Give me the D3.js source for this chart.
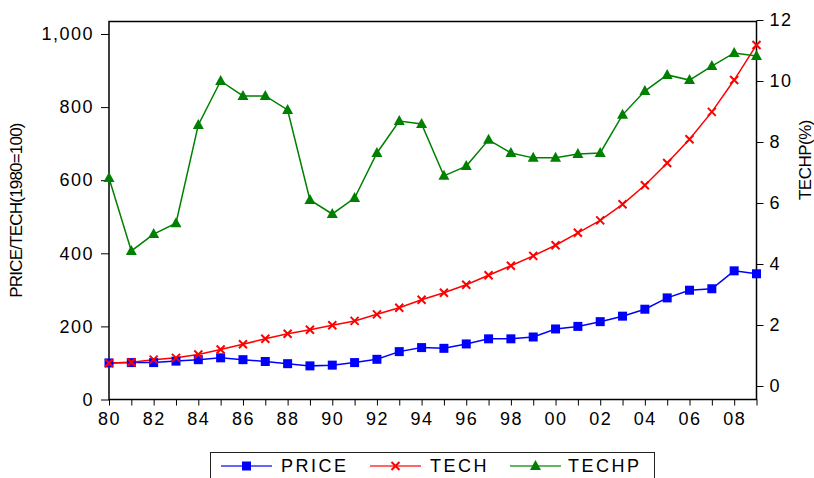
<!DOCTYPE html>
<html>
<head>
<meta charset="utf-8">
<script src="https://cdn.jsdelivr.net/npm/d3@7/dist/d3.min.js"></script>
<style>
  html, body { margin: 0; padding: 0; background: #fff; }
  svg { display: block; }
  text { font-family: "Liberation Sans", Arial, sans-serif; fill: #000; }
</style>
</head>
<body>
<svg id="chart" width="814" height="478"></svg>
<script>
const years = d3.range(1980, 2010);
const price = [100, 101, 101, 105, 109, 114, 109, 104, 98, 92, 94, 101, 110, 131, 142, 140,
               152, 166, 166, 171, 193, 200, 213, 228, 247, 278, 299, 303, 352, 344];
const tech = [100, 102, 109, 114, 123, 137, 151, 166, 180, 191, 203, 215, 233, 251, 273, 292,
              314, 340, 366, 393, 422, 456, 490, 534, 586, 647, 712, 787, 874, 970];
const techp = [6.82, 4.43, 4.98, 5.34, 8.56, 10.0, 9.51, 9.51, 9.05, 6.1, 5.64, 6.16, 7.64, 8.69, 8.59, 6.89,
               7.21, 8.07, 7.64, 7.48, 7.48, 7.61, 7.64, 8.89, 9.67, 10.2, 10.03, 10.49, 10.92, 10.82];
const leftTicks = [0, 200, 400, 600, 800, 1000];
const rightTicks = [0, 2, 4, 6, 8, 10, 12];
const xLabelYears = d3.range(1980, 2009, 2);
const seriesNames = ["PRICE", "TECH", "TECHP"];
const leftTitle = "PRICE/TECH(1980=100)";
const rightTitle = "TECHP(%)";

const svg = d3.select("#chart");
const X0 = 109, X1 = 756.5, Y0 = 21.5, Y1 = 399.5;

const x = d3.scaleLinear().domain([1980, 2009]).range([X0, X1]);
const yL = d3.scaleLinear().domain([0, 1000]).range([399.5, 34]);
const yR = d3.scaleLinear().domain([0, 12]).range([386, 20]);

const fmt = d3.format(",");

// left axis
const gL = svg.append("g").attr("transform", `translate(${X0},0)`)
  .call(d3.axisLeft(yL).tickValues(leftTicks).tickSize(8).tickPadding(7).tickFormat(fmt));
// right axis
const gR = svg.append("g").attr("transform", `translate(${X1},0)`)
  .call(d3.axisRight(yR).tickValues(rightTicks).tickSize(7).tickPadding(6));
// bottom axis
const gB = svg.append("g").attr("transform", `translate(0,${Y1})`)
  .call(d3.axisBottom(x).tickValues(years).tickSize(6).tickPadding(6)
    .tickFormat(d => (d % 2 === 0 && d < 2009) ? String(d % 100).padStart(2, "0") : ""));

[gL, gR, gB].forEach(g => {
  g.select(".domain").remove();
  g.selectAll(".tick line").attr("stroke", "#000").attr("stroke-width", 1);
  g.selectAll(".tick text").attr("font-size", 18).attr("letter-spacing", "1.5px")
    .style("font-family", '"Liberation Sans", Arial, sans-serif').attr("fill", "#000");
});
gB.selectAll(".tick text").attr("dy", "0.75em");

// frame
svg.append("rect").attr("x", X0).attr("y", Y0).attr("width", X1 - X0).attr("height", Y1 - Y0)
  .attr("fill", "none").attr("stroke", "#000").attr("stroke-width", 1.5);

// axis titles
svg.append("text").attr("transform", `translate(22,${(Y0 + Y1) / 2}) rotate(-90)`)
  .attr("text-anchor", "middle").attr("font-size", 17).attr("letter-spacing", "-0.8px")
  .text(leftTitle);
svg.append("text").attr("transform", `translate(811,160) rotate(-90)`)
  .attr("text-anchor", "middle").attr("font-size", 17).attr("letter-spacing", "-0.5px")
  .text(rightTitle);

const colors = ["#0000ff", "#ff0000", "#008000"];

function drawSeries(vals, yScale, color) {
  const line = d3.line().x((d, i) => x(years[i])).y(d => yScale(d));
  svg.append("path").datum(vals).attr("d", line).attr("fill", "none")
    .attr("stroke", color).attr("stroke-width", 1.5);
}
drawSeries(price, yL, colors[0]);
drawSeries(tech, yL, colors[1]);
drawSeries(techp, yR, colors[2]);

function square(g, cx, cy, c) {
  g.append("rect").attr("x", cx - 4.5).attr("y", cy - 4.5).attr("width", 9).attr("height", 9).attr("fill", c);
}
function cross(g, cx, cy, c) {
  g.append("path").attr("d", `M${cx - 4},${cy - 4}L${cx + 4},${cy + 4}M${cx - 4},${cy + 4}L${cx + 4},${cy - 4}`)
    .attr("stroke", c).attr("stroke-width", 2).attr("fill", "none");
}
function tri(g, cx, cy, c) {
  g.append("path").attr("d", `M${cx},${cy - 6}L${cx + 5.5},${cy + 4}L${cx - 5.5},${cy + 4}Z`).attr("fill", c);
}
const mk = svg.append("g");
price.forEach((v, i) => square(mk, x(years[i]), yL(v), colors[0]));
tech.forEach((v, i) => cross(mk, x(years[i]), yL(v), colors[1]));
techp.forEach((v, i) => tri(mk, x(years[i]), yR(v), colors[2]));

// legend
const lg = svg.append("g");
lg.append("rect").attr("x", 210.5).attr("y", 452.5).attr("width", 444).attr("height", 40)
  .attr("fill", "#fff").attr("stroke", "#222").attr("stroke-width", 1);
const legItems = [
  { lx: 221, tx: 281, f: square },
  { lx: 370, tx: 430, f: cross },
  { lx: 510, tx: 568, f: tri }
];
legItems.forEach((it, i) => {
  const ly = 466;
  lg.append("line").attr("x1", it.lx).attr("x2", it.lx + 51).attr("y1", ly).attr("y2", ly)
    .attr("stroke", colors[i]).attr("stroke-width", 1.5).attr("opacity", 0.8);
  it.f(lg, it.lx + 25.5, ly, colors[i]);
  lg.append("text").attr("x", it.tx).attr("y", ly).attr("dy", "0.36em").attr("font-size", 18)
    .attr("letter-spacing", "2.5px").text(seriesNames[i]);
});
</script>
</body>
</html>
